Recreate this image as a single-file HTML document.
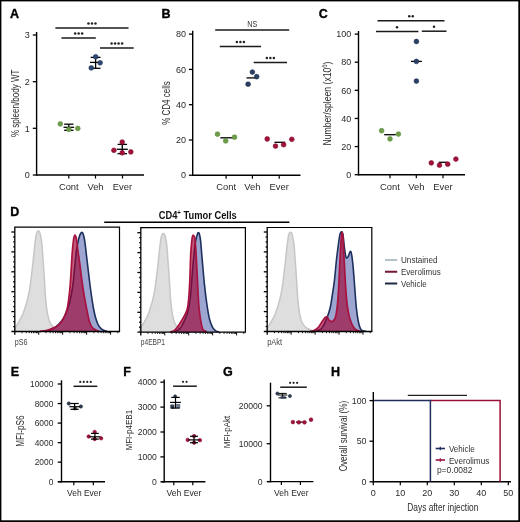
<!DOCTYPE html>
<html><head><meta charset="utf-8"><style>
html,body{margin:0;padding:0;background:#fff;}
body{width:520px;height:522px;overflow:hidden;position:relative;font-family:"Liberation Sans", sans-serif;}
svg{position:absolute;left:0;top:0;will-change:transform;}
svg text{font-family:"Liberation Sans", sans-serif;}
</style></head><body>
<svg width="520" height="522" viewBox="0 0 520 522">
<rect x="0" y="0" width="520" height="522" fill="#fff"/>
<text x="10" y="17.6" font-size="12.5" text-anchor="start" fill="#000" font-weight="bold" stroke="#000" stroke-width="0.35">A</text>
<line x1="36.6" y1="32" x2="36.6" y2="175.7" stroke="#000" stroke-width="1.4"/>
<line x1="32.800000000000004" y1="35" x2="36.6" y2="35" stroke="#000" stroke-width="1.3"/>
<text x="29.8" y="38.24" font-size="9" text-anchor="end" fill="#2a2a2a" font-weight="normal">3</text>
<line x1="32.800000000000004" y1="81.7" x2="36.6" y2="81.7" stroke="#000" stroke-width="1.3"/>
<text x="29.8" y="84.94" font-size="9" text-anchor="end" fill="#2a2a2a" font-weight="normal">2</text>
<line x1="32.800000000000004" y1="128.3" x2="36.6" y2="128.3" stroke="#000" stroke-width="1.3"/>
<text x="29.8" y="131.54000000000002" font-size="9" text-anchor="end" fill="#2a2a2a" font-weight="normal">1</text>
<line x1="32.800000000000004" y1="175" x2="36.6" y2="175" stroke="#000" stroke-width="1.3"/>
<text x="29.8" y="178.24" font-size="9" text-anchor="end" fill="#2a2a2a" font-weight="normal">0</text>
<line x1="36" y1="175" x2="144" y2="175" stroke="#000" stroke-width="1.4"/>
<line x1="68.8" y1="175" x2="68.8" y2="178.5" stroke="#000" stroke-width="1.2"/>
<line x1="95.5" y1="175" x2="95.5" y2="178.5" stroke="#000" stroke-width="1.2"/>
<line x1="122.5" y1="175" x2="122.5" y2="178.5" stroke="#000" stroke-width="1.2"/>
<text x="68.8" y="190" font-size="9.4" text-anchor="middle" fill="#2a2a2a" font-weight="normal">Cont</text>
<text x="95.5" y="190" font-size="9.4" text-anchor="middle" fill="#2a2a2a" font-weight="normal">Veh</text>
<text x="122.5" y="190" font-size="9.4" text-anchor="middle" fill="#2a2a2a" font-weight="normal">Ever</text>
<text transform="translate(18.8,103.3) rotate(-90)" x="0" y="0" font-size="10.2" text-anchor="middle" fill="#2a2a2a" textLength="67.5" lengthAdjust="spacingAndGlyphs">% spleen/body WT</text>
<line x1="55.4" y1="27.9" x2="128.5" y2="27.9" stroke="#1a1a1a" stroke-width="1.5"/>
<circle cx="88.45" cy="23.50" r="1.25" fill="#222"/>
<circle cx="91.95" cy="23.50" r="1.25" fill="#222"/>
<circle cx="95.45" cy="23.50" r="1.25" fill="#222"/>
<line x1="61.5" y1="37.9" x2="95.8" y2="37.9" stroke="#1a1a1a" stroke-width="1.5"/>
<circle cx="75.15" cy="33.50" r="1.25" fill="#222"/>
<circle cx="78.65" cy="33.50" r="1.25" fill="#222"/>
<circle cx="82.15" cy="33.50" r="1.25" fill="#222"/>
<line x1="100" y1="47.9" x2="133.7" y2="47.9" stroke="#1a1a1a" stroke-width="1.5"/>
<circle cx="111.60" cy="43.50" r="1.25" fill="#222"/>
<circle cx="115.10" cy="43.50" r="1.25" fill="#222"/>
<circle cx="118.60" cy="43.50" r="1.25" fill="#222"/>
<circle cx="122.10" cy="43.50" r="1.25" fill="#222"/>
<line x1="63.5" y1="127.3" x2="74.1" y2="127.3" stroke="#000" stroke-width="1.3"/>
<line x1="68.8" y1="124.2" x2="68.8" y2="130.3" stroke="#000" stroke-width="1.3"/>
<line x1="64.14999999999999" y1="124.2" x2="73.45" y2="124.2" stroke="#000" stroke-width="1.3"/>
<line x1="64.14999999999999" y1="130.3" x2="73.45" y2="130.3" stroke="#000" stroke-width="1.3"/>
<circle cx="60.3" cy="123.9" r="2.40" fill="#6e9e4a" stroke="#5a8a38" stroke-width="0.6"/>
<circle cx="68.85" cy="129.4" r="2.40" fill="#6e9e4a" stroke="#5a8a38" stroke-width="0.6"/>
<circle cx="77.8" cy="128.4" r="2.40" fill="#6e9e4a" stroke="#5a8a38" stroke-width="0.6"/>
<line x1="90.0" y1="62.4" x2="101.19999999999999" y2="62.4" stroke="#000" stroke-width="1.3"/>
<line x1="95.6" y1="57.4" x2="95.6" y2="68.3" stroke="#000" stroke-width="1.3"/>
<line x1="90.69999999999999" y1="57.4" x2="100.5" y2="57.4" stroke="#000" stroke-width="1.3"/>
<line x1="90.69999999999999" y1="68.3" x2="100.5" y2="68.3" stroke="#000" stroke-width="1.3"/>
<circle cx="95.7" cy="56.8" r="2.40" fill="#2e4672" stroke="#1f3258" stroke-width="0.6"/>
<circle cx="100.1" cy="62.8" r="2.40" fill="#2e4672" stroke="#1f3258" stroke-width="0.6"/>
<circle cx="91.25" cy="67.9" r="2.40" fill="#2e4672" stroke="#1f3258" stroke-width="0.6"/>
<line x1="116.8" y1="149.3" x2="127.8" y2="149.3" stroke="#000" stroke-width="1.3"/>
<line x1="122.3" y1="144.4" x2="122.3" y2="153.7" stroke="#000" stroke-width="1.3"/>
<line x1="117.55" y1="144.4" x2="127.05" y2="144.4" stroke="#000" stroke-width="1.3"/>
<line x1="117.55" y1="153.7" x2="127.05" y2="153.7" stroke="#000" stroke-width="1.3"/>
<circle cx="122.2" cy="142.1" r="2.40" fill="#a0123a" stroke="#860a2c" stroke-width="0.6"/>
<circle cx="113.9" cy="150.3" r="2.40" fill="#a0123a" stroke="#860a2c" stroke-width="0.6"/>
<circle cx="122.2" cy="152.8" r="2.40" fill="#a0123a" stroke="#860a2c" stroke-width="0.6"/>
<circle cx="130.85" cy="151.9" r="2.40" fill="#a0123a" stroke="#860a2c" stroke-width="0.6"/>
<text x="161.6" y="17.6" font-size="12.5" text-anchor="start" fill="#000" font-weight="bold" stroke="#000" stroke-width="0.35">B</text>
<line x1="192.7" y1="30.8" x2="192.7" y2="175.89999999999998" stroke="#000" stroke-width="1.4"/>
<line x1="188.89999999999998" y1="34.1" x2="192.7" y2="34.1" stroke="#000" stroke-width="1.3"/>
<text x="185.89999999999998" y="37.34" font-size="9" text-anchor="end" fill="#2a2a2a" font-weight="normal">80</text>
<line x1="188.89999999999998" y1="69.4" x2="192.7" y2="69.4" stroke="#000" stroke-width="1.3"/>
<text x="185.89999999999998" y="72.64" font-size="9" text-anchor="end" fill="#2a2a2a" font-weight="normal">60</text>
<line x1="188.89999999999998" y1="104.7" x2="192.7" y2="104.7" stroke="#000" stroke-width="1.3"/>
<text x="185.89999999999998" y="107.94" font-size="9" text-anchor="end" fill="#2a2a2a" font-weight="normal">40</text>
<line x1="188.89999999999998" y1="140" x2="192.7" y2="140" stroke="#000" stroke-width="1.3"/>
<text x="185.89999999999998" y="143.24" font-size="9" text-anchor="end" fill="#2a2a2a" font-weight="normal">20</text>
<line x1="188.89999999999998" y1="175.2" x2="192.7" y2="175.2" stroke="#000" stroke-width="1.3"/>
<text x="185.89999999999998" y="178.44" font-size="9" text-anchor="end" fill="#2a2a2a" font-weight="normal">0</text>
<line x1="192" y1="175.2" x2="300.5" y2="175.2" stroke="#000" stroke-width="1.4"/>
<line x1="226.1" y1="175.2" x2="226.1" y2="178.7" stroke="#000" stroke-width="1.2"/>
<line x1="252.4" y1="175.2" x2="252.4" y2="178.7" stroke="#000" stroke-width="1.2"/>
<line x1="279.2" y1="175.2" x2="279.2" y2="178.7" stroke="#000" stroke-width="1.2"/>
<text x="226.1" y="190" font-size="9.4" text-anchor="middle" fill="#2a2a2a" font-weight="normal">Cont</text>
<text x="252.4" y="190" font-size="9.4" text-anchor="middle" fill="#2a2a2a" font-weight="normal">Veh</text>
<text x="279.2" y="190" font-size="9.4" text-anchor="middle" fill="#2a2a2a" font-weight="normal">Ever</text>
<text transform="translate(170.1,103) rotate(-90)" x="0" y="0" font-size="10.2" text-anchor="middle" fill="#2a2a2a" textLength="43.5" lengthAdjust="spacingAndGlyphs">% CD4 cells</text>
<line x1="215.2" y1="30" x2="289.2" y2="30" stroke="#1a1a1a" stroke-width="1.5"/>
<text x="252.2" y="26.5" font-size="9.5" text-anchor="middle" fill="#333" font-weight="normal" textLength="10" lengthAdjust="spacingAndGlyphs">NS</text>
<line x1="219.8" y1="46.4" x2="261" y2="46.4" stroke="#1a1a1a" stroke-width="1.5"/>
<circle cx="236.90" cy="42.00" r="1.25" fill="#222"/>
<circle cx="240.40" cy="42.00" r="1.25" fill="#222"/>
<circle cx="243.90" cy="42.00" r="1.25" fill="#222"/>
<line x1="253.7" y1="62.5" x2="287" y2="62.5" stroke="#1a1a1a" stroke-width="1.5"/>
<circle cx="266.85" cy="58.10" r="1.25" fill="#222"/>
<circle cx="270.35" cy="58.10" r="1.25" fill="#222"/>
<circle cx="273.85" cy="58.10" r="1.25" fill="#222"/>
<line x1="220.35" y1="137.8" x2="233.04999999999998" y2="137.8" stroke="#000" stroke-width="1.3"/>
<circle cx="217.5" cy="134.2" r="2.40" fill="#6e9e4a" stroke="#5a8a38" stroke-width="0.6"/>
<circle cx="225.7" cy="140.9" r="2.40" fill="#6e9e4a" stroke="#5a8a38" stroke-width="0.6"/>
<circle cx="234.5" cy="137.2" r="2.40" fill="#6e9e4a" stroke="#5a8a38" stroke-width="0.6"/>
<line x1="246.5" y1="77.9" x2="257.5" y2="77.9" stroke="#000" stroke-width="1.3"/>
<circle cx="252.4" cy="72.1" r="2.40" fill="#2a3f66" stroke="#1c2c4c" stroke-width="0.6"/>
<circle cx="256.7" cy="76.7" r="2.40" fill="#2a3f66" stroke="#1c2c4c" stroke-width="0.6"/>
<circle cx="248.1" cy="84.2" r="2.40" fill="#2a3f66" stroke="#1c2c4c" stroke-width="0.6"/>
<line x1="274.45" y1="142.3" x2="285.15000000000003" y2="142.3" stroke="#000" stroke-width="1.3"/>
<circle cx="267.2" cy="139" r="2.40" fill="#a0123a" stroke="#860a2c" stroke-width="0.6"/>
<circle cx="275.5" cy="146.1" r="2.40" fill="#a0123a" stroke="#860a2c" stroke-width="0.6"/>
<circle cx="283.6" cy="144.7" r="2.40" fill="#a0123a" stroke="#860a2c" stroke-width="0.6"/>
<circle cx="291.8" cy="139.3" r="2.40" fill="#a0123a" stroke="#860a2c" stroke-width="0.6"/>
<text x="318.7" y="17.6" font-size="12.5" text-anchor="start" fill="#000" font-weight="bold" stroke="#000" stroke-width="0.35">C</text>
<line x1="358.5" y1="31" x2="358.5" y2="175.39999999999998" stroke="#000" stroke-width="1.4"/>
<line x1="354.7" y1="34.099999999999994" x2="358.5" y2="34.099999999999994" stroke="#000" stroke-width="1.3"/>
<text x="351.3" y="37.339999999999996" font-size="9" text-anchor="end" fill="#2a2a2a" font-weight="normal">100</text>
<line x1="354.7" y1="62.219999999999985" x2="358.5" y2="62.219999999999985" stroke="#000" stroke-width="1.3"/>
<text x="351.3" y="65.45999999999998" font-size="9" text-anchor="end" fill="#2a2a2a" font-weight="normal">80</text>
<line x1="354.7" y1="90.33999999999999" x2="358.5" y2="90.33999999999999" stroke="#000" stroke-width="1.3"/>
<text x="351.3" y="93.57999999999998" font-size="9" text-anchor="end" fill="#2a2a2a" font-weight="normal">60</text>
<line x1="354.7" y1="118.45999999999998" x2="358.5" y2="118.45999999999998" stroke="#000" stroke-width="1.3"/>
<text x="351.3" y="121.69999999999997" font-size="9" text-anchor="end" fill="#2a2a2a" font-weight="normal">40</text>
<line x1="354.7" y1="146.57999999999998" x2="358.5" y2="146.57999999999998" stroke="#000" stroke-width="1.3"/>
<text x="351.3" y="149.82" font-size="9" text-anchor="end" fill="#2a2a2a" font-weight="normal">20</text>
<line x1="354.7" y1="174.7" x2="358.5" y2="174.7" stroke="#000" stroke-width="1.3"/>
<text x="351.3" y="177.94" font-size="9" text-anchor="end" fill="#2a2a2a" font-weight="normal">0</text>
<line x1="358" y1="174.7" x2="465" y2="174.7" stroke="#000" stroke-width="1.4"/>
<line x1="390" y1="174.7" x2="390" y2="178.2" stroke="#000" stroke-width="1.2"/>
<line x1="416.3" y1="174.7" x2="416.3" y2="178.2" stroke="#000" stroke-width="1.2"/>
<line x1="443" y1="174.7" x2="443" y2="178.2" stroke="#000" stroke-width="1.2"/>
<text x="390" y="190" font-size="9.4" text-anchor="middle" fill="#2a2a2a" font-weight="normal">Cont</text>
<text x="416.3" y="190" font-size="9.4" text-anchor="middle" fill="#2a2a2a" font-weight="normal">Veh</text>
<text x="443" y="190" font-size="9.4" text-anchor="middle" fill="#2a2a2a" font-weight="normal">Ever</text>
<text transform="translate(330.6,103.5) rotate(-90)" x="0" y="0" font-size="10.4" text-anchor="middle" fill="#2a2a2a" textLength="84" lengthAdjust="spacingAndGlyphs">Number/spleen (x10<tspan font-size="7" dy="-3.8">6</tspan><tspan dy="3.8">)</tspan></text>
<line x1="377.5" y1="20.75" x2="444.5" y2="20.75" stroke="#1a1a1a" stroke-width="1.5"/>
<circle cx="409.25" cy="16.35" r="1.25" fill="#222"/>
<circle cx="412.75" cy="16.35" r="1.25" fill="#222"/>
<line x1="376" y1="31.6" x2="418.4" y2="31.6" stroke="#1a1a1a" stroke-width="1.5"/>
<circle cx="397.00" cy="27.20" r="1.25" fill="#222"/>
<line x1="421.8" y1="31.2" x2="446.5" y2="31.2" stroke="#1a1a1a" stroke-width="1.5"/>
<circle cx="434.00" cy="26.80" r="1.25" fill="#222"/>
<line x1="384.2" y1="134.7" x2="395.8" y2="134.7" stroke="#000" stroke-width="1.3"/>
<circle cx="381.6" cy="130.7" r="2.40" fill="#6e9e4a" stroke="#5a8a38" stroke-width="0.6"/>
<circle cx="390" cy="138.9" r="2.40" fill="#6e9e4a" stroke="#5a8a38" stroke-width="0.6"/>
<circle cx="398.4" cy="134.1" r="2.40" fill="#6e9e4a" stroke="#5a8a38" stroke-width="0.6"/>
<line x1="410.9" y1="61.4" x2="421.9" y2="61.4" stroke="#000" stroke-width="1.3"/>
<circle cx="416.4" cy="41.5" r="2.40" fill="#2a3f66" stroke="#1c2c4c" stroke-width="0.6"/>
<circle cx="416.4" cy="61.4" r="2.40" fill="#2a3f66" stroke="#1c2c4c" stroke-width="0.6"/>
<circle cx="416.4" cy="81.1" r="2.40" fill="#2a3f66" stroke="#1c2c4c" stroke-width="0.6"/>
<line x1="438.75" y1="162.3" x2="447.25" y2="162.3" stroke="#000" stroke-width="1.3"/>
<circle cx="431.3" cy="162.9" r="2.40" fill="#a0123a" stroke="#860a2c" stroke-width="0.6"/>
<circle cx="439.5" cy="165.2" r="2.40" fill="#a0123a" stroke="#860a2c" stroke-width="0.6"/>
<circle cx="447.7" cy="164.2" r="2.40" fill="#a0123a" stroke="#860a2c" stroke-width="0.6"/>
<circle cx="455.9" cy="159.1" r="2.40" fill="#a0123a" stroke="#860a2c" stroke-width="0.6"/>
<text x="10.3" y="216.3" font-size="12.5" text-anchor="start" fill="#000" font-weight="bold" stroke="#000" stroke-width="0.35">D</text>
<line x1="104.2" y1="222.3" x2="289.4" y2="222.3" stroke="#000" stroke-width="1.4"/>
<text x="197.7" y="218.7" font-size="10" text-anchor="middle" fill="#111" font-weight="bold" textLength="78" lengthAdjust="spacingAndGlyphs">CD4<tspan font-size="6.5" dy="-3.5">+</tspan><tspan dy="3.5"> Tumor Cells</tspan></text>
<path d="M14.50,331.00 C14.75,330.27 15.25,328.17 16.00,326.60 C16.75,325.03 17.83,323.75 19.00,321.60 C20.17,319.45 21.68,317.02 23.00,313.70 C24.32,310.38 25.75,306.02 26.90,301.70 C28.05,297.38 29.07,292.78 29.90,287.80 C30.73,282.82 31.30,276.78 31.90,271.80 C32.50,266.82 33.00,262.53 33.50,257.90 C34.00,253.27 34.43,247.90 34.90,244.00 C35.37,240.10 35.88,236.57 36.30,234.50 C36.72,232.43 37.07,232.18 37.40,231.60 C37.73,231.02 37.98,231.00 38.30,231.00 C38.62,231.00 38.97,231.02 39.30,231.60 C39.63,232.18 39.87,232.43 40.30,234.50 C40.73,236.57 41.47,240.10 41.90,244.00 C42.33,247.90 42.57,253.27 42.90,257.90 C43.23,262.53 43.57,266.82 43.90,271.80 C44.23,276.78 44.57,282.82 44.90,287.80 C45.23,292.78 45.47,297.38 45.90,301.70 C46.33,306.02 46.90,310.38 47.50,313.70 C48.10,317.02 48.62,319.45 49.50,321.60 C50.38,323.75 51.58,325.33 52.80,326.60 C54.02,327.87 55.60,328.50 56.80,329.20 C58.00,329.90 59.47,330.53 60.00,330.80 L60.00,331.5 L14.50,331.5 Z" fill="#dedede" fill-opacity="1.0" stroke="none"/>
<path d="M14.50,331.00 C14.75,330.27 15.25,328.17 16.00,326.60 C16.75,325.03 17.83,323.75 19.00,321.60 C20.17,319.45 21.68,317.02 23.00,313.70 C24.32,310.38 25.75,306.02 26.90,301.70 C28.05,297.38 29.07,292.78 29.90,287.80 C30.73,282.82 31.30,276.78 31.90,271.80 C32.50,266.82 33.00,262.53 33.50,257.90 C34.00,253.27 34.43,247.90 34.90,244.00 C35.37,240.10 35.88,236.57 36.30,234.50 C36.72,232.43 37.07,232.18 37.40,231.60 C37.73,231.02 37.98,231.00 38.30,231.00 C38.62,231.00 38.97,231.02 39.30,231.60 C39.63,232.18 39.87,232.43 40.30,234.50 C40.73,236.57 41.47,240.10 41.90,244.00 C42.33,247.90 42.57,253.27 42.90,257.90 C43.23,262.53 43.57,266.82 43.90,271.80 C44.23,276.78 44.57,282.82 44.90,287.80 C45.23,292.78 45.47,297.38 45.90,301.70 C46.33,306.02 46.90,310.38 47.50,313.70 C48.10,317.02 48.62,319.45 49.50,321.60 C50.38,323.75 51.58,325.33 52.80,326.60 C54.02,327.87 55.60,328.50 56.80,329.20 C58.00,329.90 59.47,330.53 60.00,330.80" fill="none" stroke="#c6c6c6" stroke-width="1.5" stroke-linejoin="round"/>
<path d="M47.00,331.20 C48.33,330.58 52.50,329.28 55.00,327.50 C57.50,325.72 60.08,323.08 62.00,320.50 C63.92,317.92 65.25,314.92 66.50,312.00 C67.75,309.08 68.62,306.33 69.50,303.00 C70.38,299.67 71.13,295.83 71.80,292.00 C72.47,288.17 72.97,284.67 73.50,280.00 C74.03,275.33 74.55,268.67 75.00,264.00 C75.45,259.33 75.77,255.33 76.20,252.00 C76.63,248.67 77.10,246.50 77.60,244.00 C78.10,241.50 78.70,238.75 79.20,237.00 C79.70,235.25 80.17,234.27 80.60,233.50 C81.03,232.73 81.40,232.38 81.80,232.40 C82.20,232.42 82.60,232.67 83.00,233.60 C83.40,234.53 83.80,235.93 84.20,238.00 C84.60,240.07 85.00,242.90 85.40,246.00 C85.80,249.10 86.13,252.60 86.60,256.60 C87.07,260.60 87.63,265.27 88.20,270.00 C88.77,274.73 89.40,280.33 90.00,285.00 C90.60,289.67 91.20,294.00 91.80,298.00 C92.40,302.00 93.00,305.83 93.60,309.00 C94.20,312.17 94.73,314.58 95.40,317.00 C96.07,319.42 96.83,321.73 97.60,323.50 C98.37,325.27 99.10,326.52 100.00,327.60 C100.90,328.68 101.83,329.40 103.00,330.00 C104.17,330.60 106.33,331.00 107.00,331.20 L107.00,331.5 L47.00,331.5 Z" fill="#9ca6d0" fill-opacity="1.0" stroke="none"/>
<path d="M47.00,331.20 C48.33,330.58 52.50,329.28 55.00,327.50 C57.50,325.72 60.08,323.08 62.00,320.50 C63.92,317.92 65.25,314.92 66.50,312.00 C67.75,309.08 68.62,306.33 69.50,303.00 C70.38,299.67 71.13,295.83 71.80,292.00 C72.47,288.17 72.97,284.67 73.50,280.00 C74.03,275.33 74.55,268.67 75.00,264.00 C75.45,259.33 75.77,255.33 76.20,252.00 C76.63,248.67 77.10,246.50 77.60,244.00 C78.10,241.50 78.70,238.75 79.20,237.00 C79.70,235.25 80.17,234.27 80.60,233.50 C81.03,232.73 81.40,232.38 81.80,232.40 C82.20,232.42 82.60,232.67 83.00,233.60 C83.40,234.53 83.80,235.93 84.20,238.00 C84.60,240.07 85.00,242.90 85.40,246.00 C85.80,249.10 86.13,252.60 86.60,256.60 C87.07,260.60 87.63,265.27 88.20,270.00 C88.77,274.73 89.40,280.33 90.00,285.00 C90.60,289.67 91.20,294.00 91.80,298.00 C92.40,302.00 93.00,305.83 93.60,309.00 C94.20,312.17 94.73,314.58 95.40,317.00 C96.07,319.42 96.83,321.73 97.60,323.50 C98.37,325.27 99.10,326.52 100.00,327.60 C100.90,328.68 101.83,329.40 103.00,330.00 C104.17,330.60 106.33,331.00 107.00,331.20" fill="none" stroke="#1e305e" stroke-width="1.6" stroke-linejoin="round"/>
<path d="M40.00,331.30 C41.00,331.18 44.00,331.05 46.00,330.60 C48.00,330.15 50.02,329.43 52.00,328.60 C53.98,327.77 56.08,327.10 57.90,325.60 C59.72,324.10 61.40,322.25 62.90,319.60 C64.40,316.95 65.90,313.35 66.90,309.70 C67.90,306.05 68.33,302.02 68.90,297.70 C69.47,293.38 69.90,288.78 70.30,283.80 C70.70,278.82 70.97,273.12 71.30,267.80 C71.63,262.48 71.93,256.53 72.30,251.90 C72.67,247.27 73.17,242.62 73.50,240.00 C73.83,237.38 74.07,237.03 74.30,236.20 C74.53,235.37 74.68,235.00 74.90,235.00 C75.12,235.00 75.37,235.70 75.60,236.20 C75.83,236.70 75.93,235.72 76.30,238.00 C76.67,240.28 77.22,245.58 77.80,249.90 C78.38,254.22 79.13,258.92 79.80,263.90 C80.47,268.88 81.07,274.50 81.80,279.80 C82.53,285.10 83.37,290.72 84.20,295.70 C85.03,300.68 85.93,305.38 86.80,309.70 C87.67,314.02 88.50,318.62 89.40,321.60 C90.30,324.58 91.13,326.20 92.20,327.60 C93.27,329.00 94.67,329.40 95.80,330.00 C96.93,330.60 98.47,331.00 99.00,331.20 L99.00,331.5 L40.00,331.5 Z" fill="#a00034" fill-opacity="0.64" stroke="none"/>
<path d="M40.00,331.30 C41.00,331.18 44.00,331.05 46.00,330.60 C48.00,330.15 50.02,329.43 52.00,328.60 C53.98,327.77 56.08,327.10 57.90,325.60 C59.72,324.10 61.40,322.25 62.90,319.60 C64.40,316.95 65.90,313.35 66.90,309.70 C67.90,306.05 68.33,302.02 68.90,297.70 C69.47,293.38 69.90,288.78 70.30,283.80 C70.70,278.82 70.97,273.12 71.30,267.80 C71.63,262.48 71.93,256.53 72.30,251.90 C72.67,247.27 73.17,242.62 73.50,240.00 C73.83,237.38 74.07,237.03 74.30,236.20 C74.53,235.37 74.68,235.00 74.90,235.00 C75.12,235.00 75.37,235.70 75.60,236.20 C75.83,236.70 75.93,235.72 76.30,238.00 C76.67,240.28 77.22,245.58 77.80,249.90 C78.38,254.22 79.13,258.92 79.80,263.90 C80.47,268.88 81.07,274.50 81.80,279.80 C82.53,285.10 83.37,290.72 84.20,295.70 C85.03,300.68 85.93,305.38 86.80,309.70 C87.67,314.02 88.50,318.62 89.40,321.60 C90.30,324.58 91.13,326.20 92.20,327.60 C93.27,329.00 94.67,329.40 95.80,330.00 C96.93,330.60 98.47,331.00 99.00,331.20" fill="none" stroke="#a8123f" stroke-width="1.7" stroke-linejoin="round"/>
<line x1="13.200000000000001" y1="326.525" x2="14.8" y2="326.525" stroke="#000" stroke-width="1.3"/>
<line x1="13.200000000000001" y1="321.55" x2="14.8" y2="321.55" stroke="#000" stroke-width="1.3"/>
<line x1="13.200000000000001" y1="316.575" x2="14.8" y2="316.575" stroke="#000" stroke-width="1.3"/>
<line x1="11.4" y1="311.6" x2="14.8" y2="311.6" stroke="#000" stroke-width="1.3"/>
<line x1="13.200000000000001" y1="306.625" x2="14.8" y2="306.625" stroke="#000" stroke-width="1.3"/>
<line x1="13.200000000000001" y1="301.65" x2="14.8" y2="301.65" stroke="#000" stroke-width="1.3"/>
<line x1="13.200000000000001" y1="296.675" x2="14.8" y2="296.675" stroke="#000" stroke-width="1.3"/>
<line x1="11.4" y1="291.7" x2="14.8" y2="291.7" stroke="#000" stroke-width="1.3"/>
<line x1="13.200000000000001" y1="286.725" x2="14.8" y2="286.725" stroke="#000" stroke-width="1.3"/>
<line x1="13.200000000000001" y1="281.75" x2="14.8" y2="281.75" stroke="#000" stroke-width="1.3"/>
<line x1="13.200000000000001" y1="276.775" x2="14.8" y2="276.775" stroke="#000" stroke-width="1.3"/>
<line x1="11.4" y1="271.8" x2="14.8" y2="271.8" stroke="#000" stroke-width="1.3"/>
<line x1="13.200000000000001" y1="266.825" x2="14.8" y2="266.825" stroke="#000" stroke-width="1.3"/>
<line x1="13.200000000000001" y1="261.85" x2="14.8" y2="261.85" stroke="#000" stroke-width="1.3"/>
<line x1="13.200000000000001" y1="256.875" x2="14.8" y2="256.875" stroke="#000" stroke-width="1.3"/>
<line x1="11.4" y1="251.9" x2="14.8" y2="251.9" stroke="#000" stroke-width="1.3"/>
<line x1="13.200000000000001" y1="246.925" x2="14.8" y2="246.925" stroke="#000" stroke-width="1.3"/>
<line x1="13.200000000000001" y1="241.95" x2="14.8" y2="241.95" stroke="#000" stroke-width="1.3"/>
<line x1="13.200000000000001" y1="236.97500000000002" x2="14.8" y2="236.97500000000002" stroke="#000" stroke-width="1.3"/>
<line x1="11.4" y1="232.0" x2="14.8" y2="232.0" stroke="#000" stroke-width="1.3"/>
<line x1="22.00966839615235" y1="331.5" x2="22.00966839615235" y2="333.2" stroke="#000" stroke-width="0.9"/>
<line x1="26.227054050535916" y1="331.5" x2="26.227054050535916" y2="333.2" stroke="#000" stroke-width="0.9"/>
<line x1="29.219336792304702" y1="331.5" x2="29.219336792304702" y2="333.2" stroke="#000" stroke-width="0.9"/>
<line x1="31.54033160384765" y1="331.5" x2="31.54033160384765" y2="333.2" stroke="#000" stroke-width="0.9"/>
<line x1="33.436722446688265" y1="331.5" x2="33.436722446688265" y2="333.2" stroke="#000" stroke-width="0.9"/>
<line x1="35.04009805834145" y1="331.5" x2="35.04009805834145" y2="333.2" stroke="#000" stroke-width="0.9"/>
<line x1="36.42900518845705" y1="331.5" x2="36.42900518845705" y2="333.2" stroke="#000" stroke-width="0.9"/>
<line x1="37.65410810107183" y1="331.5" x2="37.65410810107183" y2="333.2" stroke="#000" stroke-width="0.9"/>
<line x1="38.75" y1="331.5" x2="38.75" y2="334.7" stroke="#000" stroke-width="1.0"/>
<line x1="45.95966839615235" y1="331.5" x2="45.95966839615235" y2="333.2" stroke="#000" stroke-width="0.9"/>
<line x1="50.177054050535915" y1="331.5" x2="50.177054050535915" y2="333.2" stroke="#000" stroke-width="0.9"/>
<line x1="53.1693367923047" y1="331.5" x2="53.1693367923047" y2="333.2" stroke="#000" stroke-width="0.9"/>
<line x1="55.49033160384765" y1="331.5" x2="55.49033160384765" y2="333.2" stroke="#000" stroke-width="0.9"/>
<line x1="57.38672244668827" y1="331.5" x2="57.38672244668827" y2="333.2" stroke="#000" stroke-width="0.9"/>
<line x1="58.990098058341445" y1="331.5" x2="58.990098058341445" y2="333.2" stroke="#000" stroke-width="0.9"/>
<line x1="60.37900518845704" y1="331.5" x2="60.37900518845704" y2="333.2" stroke="#000" stroke-width="0.9"/>
<line x1="61.60410810107183" y1="331.5" x2="61.60410810107183" y2="333.2" stroke="#000" stroke-width="0.9"/>
<line x1="62.7" y1="331.5" x2="62.7" y2="334.7" stroke="#000" stroke-width="1.0"/>
<line x1="69.90966839615236" y1="331.5" x2="69.90966839615236" y2="333.2" stroke="#000" stroke-width="0.9"/>
<line x1="74.12705405053592" y1="331.5" x2="74.12705405053592" y2="333.2" stroke="#000" stroke-width="0.9"/>
<line x1="77.11933679230471" y1="331.5" x2="77.11933679230471" y2="333.2" stroke="#000" stroke-width="0.9"/>
<line x1="79.44033160384765" y1="331.5" x2="79.44033160384765" y2="333.2" stroke="#000" stroke-width="0.9"/>
<line x1="81.33672244668827" y1="331.5" x2="81.33672244668827" y2="333.2" stroke="#000" stroke-width="0.9"/>
<line x1="82.94009805834145" y1="331.5" x2="82.94009805834145" y2="333.2" stroke="#000" stroke-width="0.9"/>
<line x1="84.32900518845705" y1="331.5" x2="84.32900518845705" y2="333.2" stroke="#000" stroke-width="0.9"/>
<line x1="85.55410810107183" y1="331.5" x2="85.55410810107183" y2="333.2" stroke="#000" stroke-width="0.9"/>
<line x1="86.64999999999999" y1="331.5" x2="86.64999999999999" y2="334.7" stroke="#000" stroke-width="1.0"/>
<line x1="93.85966839615234" y1="331.5" x2="93.85966839615234" y2="333.2" stroke="#000" stroke-width="0.9"/>
<line x1="98.0770540505359" y1="331.5" x2="98.0770540505359" y2="333.2" stroke="#000" stroke-width="0.9"/>
<line x1="101.0693367923047" y1="331.5" x2="101.0693367923047" y2="333.2" stroke="#000" stroke-width="0.9"/>
<line x1="103.39033160384764" y1="331.5" x2="103.39033160384764" y2="333.2" stroke="#000" stroke-width="0.9"/>
<line x1="105.28672244668826" y1="331.5" x2="105.28672244668826" y2="333.2" stroke="#000" stroke-width="0.9"/>
<line x1="106.89009805834144" y1="331.5" x2="106.89009805834144" y2="333.2" stroke="#000" stroke-width="0.9"/>
<line x1="108.27900518845703" y1="331.5" x2="108.27900518845703" y2="333.2" stroke="#000" stroke-width="0.9"/>
<line x1="109.50410810107182" y1="331.5" x2="109.50410810107182" y2="333.2" stroke="#000" stroke-width="0.9"/>
<line x1="110.6" y1="331.5" x2="110.6" y2="334.7" stroke="#000" stroke-width="1.0"/>
<line x1="117.80966839615235" y1="331.5" x2="117.80966839615235" y2="333.2" stroke="#000" stroke-width="0.9"/>
<line x1="14.8" y1="227.2" x2="14.8" y2="334.8" stroke="#000" stroke-width="1.3"/>
<line x1="11.4" y1="331.5" x2="120.1" y2="331.5" stroke="#000" stroke-width="1.3"/>
<line x1="14.200000000000001" y1="227.2" x2="120.1" y2="227.2" stroke="#000" stroke-width="1.2"/>
<line x1="119.5" y1="227.2" x2="119.5" y2="331.5" stroke="#000" stroke-width="1.2"/>
<text x="14.8" y="344.7" font-size="8.3" text-anchor="start" fill="#444" font-weight="normal" textLength="12.7" lengthAdjust="spacingAndGlyphs">pS6</text>
<path d="M139.50,331.71 C139.75,330.99 140.25,328.93 141.00,327.39 C141.75,325.85 142.83,324.59 144.00,322.48 C145.17,320.37 146.68,317.98 148.00,314.72 C149.32,311.46 150.75,307.17 151.90,302.93 C153.05,298.69 154.07,294.18 154.90,289.28 C155.73,284.39 156.30,278.46 156.90,273.57 C157.50,268.68 158.00,264.47 158.50,259.92 C159.00,255.37 159.43,250.10 159.90,246.27 C160.37,242.44 160.88,238.97 161.30,236.94 C161.72,234.91 162.07,234.66 162.40,234.09 C162.73,233.52 162.98,233.50 163.30,233.50 C163.62,233.50 163.97,233.52 164.30,234.09 C164.63,234.66 164.87,234.91 165.30,236.94 C165.73,238.97 166.47,242.44 166.90,246.27 C167.33,250.10 167.57,255.37 167.90,259.92 C168.23,264.47 168.57,268.68 168.90,273.57 C169.23,278.46 169.57,284.39 169.90,289.28 C170.23,294.18 170.47,298.69 170.90,302.93 C171.33,307.17 171.90,311.46 172.50,314.72 C173.10,317.98 173.62,320.37 174.50,322.48 C175.38,324.59 176.58,326.14 177.80,327.39 C179.02,328.63 180.60,329.25 181.80,329.94 C183.00,330.63 184.47,331.25 185.00,331.51 L185.00,332.2 L139.50,332.2 Z" fill="#dedede" fill-opacity="1.0" stroke="none"/>
<path d="M139.50,331.71 C139.75,330.99 140.25,328.93 141.00,327.39 C141.75,325.85 142.83,324.59 144.00,322.48 C145.17,320.37 146.68,317.98 148.00,314.72 C149.32,311.46 150.75,307.17 151.90,302.93 C153.05,298.69 154.07,294.18 154.90,289.28 C155.73,284.39 156.30,278.46 156.90,273.57 C157.50,268.68 158.00,264.47 158.50,259.92 C159.00,255.37 159.43,250.10 159.90,246.27 C160.37,242.44 160.88,238.97 161.30,236.94 C161.72,234.91 162.07,234.66 162.40,234.09 C162.73,233.52 162.98,233.50 163.30,233.50 C163.62,233.50 163.97,233.52 164.30,234.09 C164.63,234.66 164.87,234.91 165.30,236.94 C165.73,238.97 166.47,242.44 166.90,246.27 C167.33,250.10 167.57,255.37 167.90,259.92 C168.23,264.47 168.57,268.68 168.90,273.57 C169.23,278.46 169.57,284.39 169.90,289.28 C170.23,294.18 170.47,298.69 170.90,302.93 C171.33,307.17 171.90,311.46 172.50,314.72 C173.10,317.98 173.62,320.37 174.50,322.48 C175.38,324.59 176.58,326.14 177.80,327.39 C179.02,328.63 180.60,329.25 181.80,329.94 C183.00,330.63 184.47,331.25 185.00,331.51" fill="none" stroke="#c6c6c6" stroke-width="1.5" stroke-linejoin="round"/>
<path d="M174.00,332.00 C175.00,331.43 178.25,330.52 180.00,328.60 C181.75,326.68 183.25,323.10 184.50,320.50 C185.75,317.90 186.72,315.58 187.50,313.00 C188.28,310.42 188.68,308.00 189.20,305.00 C189.72,302.00 190.17,299.17 190.60,295.00 C191.03,290.83 191.40,285.00 191.80,280.00 C192.20,275.00 192.60,269.67 193.00,265.00 C193.40,260.33 193.80,255.83 194.20,252.00 C194.60,248.17 194.97,244.65 195.40,242.00 C195.83,239.35 196.40,237.57 196.80,236.10 C197.20,234.63 197.53,233.80 197.80,233.20 C198.07,232.60 198.17,232.45 198.40,232.50 C198.63,232.55 198.85,232.22 199.20,233.50 C199.55,234.78 200.02,236.03 200.50,240.20 C200.98,244.37 201.43,251.05 202.10,258.50 C202.77,265.95 203.68,277.12 204.50,284.90 C205.32,292.68 206.15,299.43 207.00,305.20 C207.85,310.97 208.65,315.77 209.60,319.50 C210.55,323.23 211.68,325.72 212.70,327.60 C213.72,329.48 214.65,330.08 215.70,330.80 C216.75,331.52 218.45,331.72 219.00,331.90 L219.00,332.2 L174.00,332.2 Z" fill="#9ca6d0" fill-opacity="1.0" stroke="none"/>
<path d="M174.00,332.00 C175.00,331.43 178.25,330.52 180.00,328.60 C181.75,326.68 183.25,323.10 184.50,320.50 C185.75,317.90 186.72,315.58 187.50,313.00 C188.28,310.42 188.68,308.00 189.20,305.00 C189.72,302.00 190.17,299.17 190.60,295.00 C191.03,290.83 191.40,285.00 191.80,280.00 C192.20,275.00 192.60,269.67 193.00,265.00 C193.40,260.33 193.80,255.83 194.20,252.00 C194.60,248.17 194.97,244.65 195.40,242.00 C195.83,239.35 196.40,237.57 196.80,236.10 C197.20,234.63 197.53,233.80 197.80,233.20 C198.07,232.60 198.17,232.45 198.40,232.50 C198.63,232.55 198.85,232.22 199.20,233.50 C199.55,234.78 200.02,236.03 200.50,240.20 C200.98,244.37 201.43,251.05 202.10,258.50 C202.77,265.95 203.68,277.12 204.50,284.90 C205.32,292.68 206.15,299.43 207.00,305.20 C207.85,310.97 208.65,315.77 209.60,319.50 C210.55,323.23 211.68,325.72 212.70,327.60 C213.72,329.48 214.65,330.08 215.70,330.80 C216.75,331.52 218.45,331.72 219.00,331.90" fill="none" stroke="#1e305e" stroke-width="1.6" stroke-linejoin="round"/>
<path d="M170.00,332.00 C170.67,331.77 172.82,331.33 174.00,330.60 C175.18,329.87 175.92,329.12 177.10,327.60 C178.28,326.08 179.85,323.53 181.10,321.50 C182.35,319.47 183.58,317.43 184.60,315.40 C185.62,313.37 186.52,312.02 187.20,309.30 C187.88,306.58 188.25,304.18 188.70,299.10 C189.15,294.02 189.57,286.25 189.90,278.80 C190.23,271.35 190.37,260.83 190.70,254.40 C191.03,247.97 191.58,243.23 191.90,240.20 C192.22,237.17 192.37,237.05 192.60,236.20 C192.83,235.35 193.05,235.10 193.30,235.10 C193.55,235.10 193.85,235.68 194.10,236.20 C194.35,236.72 194.48,235.50 194.80,238.20 C195.12,240.90 195.57,245.63 196.00,252.40 C196.43,259.17 196.93,270.00 197.40,278.80 C197.87,287.60 198.28,298.42 198.80,305.20 C199.32,311.98 199.88,315.60 200.50,319.50 C201.12,323.40 201.83,326.72 202.50,328.60 C203.17,330.48 203.75,330.25 204.50,330.80 C205.25,331.35 206.58,331.72 207.00,331.90 L207.00,332.2 L170.00,332.2 Z" fill="#a00034" fill-opacity="0.64" stroke="none"/>
<path d="M170.00,332.00 C170.67,331.77 172.82,331.33 174.00,330.60 C175.18,329.87 175.92,329.12 177.10,327.60 C178.28,326.08 179.85,323.53 181.10,321.50 C182.35,319.47 183.58,317.43 184.60,315.40 C185.62,313.37 186.52,312.02 187.20,309.30 C187.88,306.58 188.25,304.18 188.70,299.10 C189.15,294.02 189.57,286.25 189.90,278.80 C190.23,271.35 190.37,260.83 190.70,254.40 C191.03,247.97 191.58,243.23 191.90,240.20 C192.22,237.17 192.37,237.05 192.60,236.20 C192.83,235.35 193.05,235.10 193.30,235.10 C193.55,235.10 193.85,235.68 194.10,236.20 C194.35,236.72 194.48,235.50 194.80,238.20 C195.12,240.90 195.57,245.63 196.00,252.40 C196.43,259.17 196.93,270.00 197.40,278.80 C197.87,287.60 198.28,298.42 198.80,305.20 C199.32,311.98 199.88,315.60 200.50,319.50 C201.12,323.40 201.83,326.72 202.50,328.60 C203.17,330.48 203.75,330.25 204.50,330.80 C205.25,331.35 206.58,331.72 207.00,331.90" fill="none" stroke="#a8123f" stroke-width="1.7" stroke-linejoin="round"/>
<line x1="139.20000000000002" y1="327.22499999999997" x2="140.8" y2="327.22499999999997" stroke="#000" stroke-width="1.3"/>
<line x1="139.20000000000002" y1="322.25" x2="140.8" y2="322.25" stroke="#000" stroke-width="1.3"/>
<line x1="139.20000000000002" y1="317.275" x2="140.8" y2="317.275" stroke="#000" stroke-width="1.3"/>
<line x1="137.4" y1="312.3" x2="140.8" y2="312.3" stroke="#000" stroke-width="1.3"/>
<line x1="139.20000000000002" y1="307.325" x2="140.8" y2="307.325" stroke="#000" stroke-width="1.3"/>
<line x1="139.20000000000002" y1="302.34999999999997" x2="140.8" y2="302.34999999999997" stroke="#000" stroke-width="1.3"/>
<line x1="139.20000000000002" y1="297.375" x2="140.8" y2="297.375" stroke="#000" stroke-width="1.3"/>
<line x1="137.4" y1="292.4" x2="140.8" y2="292.4" stroke="#000" stroke-width="1.3"/>
<line x1="139.20000000000002" y1="287.425" x2="140.8" y2="287.425" stroke="#000" stroke-width="1.3"/>
<line x1="139.20000000000002" y1="282.45" x2="140.8" y2="282.45" stroke="#000" stroke-width="1.3"/>
<line x1="139.20000000000002" y1="277.475" x2="140.8" y2="277.475" stroke="#000" stroke-width="1.3"/>
<line x1="137.4" y1="272.5" x2="140.8" y2="272.5" stroke="#000" stroke-width="1.3"/>
<line x1="139.20000000000002" y1="267.525" x2="140.8" y2="267.525" stroke="#000" stroke-width="1.3"/>
<line x1="139.20000000000002" y1="262.55" x2="140.8" y2="262.55" stroke="#000" stroke-width="1.3"/>
<line x1="139.20000000000002" y1="257.575" x2="140.8" y2="257.575" stroke="#000" stroke-width="1.3"/>
<line x1="137.4" y1="252.6" x2="140.8" y2="252.6" stroke="#000" stroke-width="1.3"/>
<line x1="139.20000000000002" y1="247.625" x2="140.8" y2="247.625" stroke="#000" stroke-width="1.3"/>
<line x1="139.20000000000002" y1="242.64999999999998" x2="140.8" y2="242.64999999999998" stroke="#000" stroke-width="1.3"/>
<line x1="139.20000000000002" y1="237.675" x2="140.8" y2="237.675" stroke="#000" stroke-width="1.3"/>
<line x1="137.4" y1="232.7" x2="140.8" y2="232.7" stroke="#000" stroke-width="1.3"/>
<line x1="148.00966839615236" y1="332.2" x2="148.00966839615236" y2="333.9" stroke="#000" stroke-width="0.9"/>
<line x1="152.2270540505359" y1="332.2" x2="152.2270540505359" y2="333.9" stroke="#000" stroke-width="0.9"/>
<line x1="155.21933679230472" y1="332.2" x2="155.21933679230472" y2="333.9" stroke="#000" stroke-width="0.9"/>
<line x1="157.54033160384768" y1="332.2" x2="157.54033160384768" y2="333.9" stroke="#000" stroke-width="0.9"/>
<line x1="159.43672244668826" y1="332.2" x2="159.43672244668826" y2="333.9" stroke="#000" stroke-width="0.9"/>
<line x1="161.04009805834147" y1="332.2" x2="161.04009805834147" y2="333.9" stroke="#000" stroke-width="0.9"/>
<line x1="162.42900518845707" y1="332.2" x2="162.42900518845707" y2="333.9" stroke="#000" stroke-width="0.9"/>
<line x1="163.65410810107184" y1="332.2" x2="163.65410810107184" y2="333.9" stroke="#000" stroke-width="0.9"/>
<line x1="164.75" y1="332.2" x2="164.75" y2="335.4" stroke="#000" stroke-width="1.0"/>
<line x1="171.95966839615235" y1="332.2" x2="171.95966839615235" y2="333.9" stroke="#000" stroke-width="0.9"/>
<line x1="176.1770540505359" y1="332.2" x2="176.1770540505359" y2="333.9" stroke="#000" stroke-width="0.9"/>
<line x1="179.1693367923047" y1="332.2" x2="179.1693367923047" y2="333.9" stroke="#000" stroke-width="0.9"/>
<line x1="181.49033160384766" y1="332.2" x2="181.49033160384766" y2="333.9" stroke="#000" stroke-width="0.9"/>
<line x1="183.38672244668825" y1="332.2" x2="183.38672244668825" y2="333.9" stroke="#000" stroke-width="0.9"/>
<line x1="184.99009805834146" y1="332.2" x2="184.99009805834146" y2="333.9" stroke="#000" stroke-width="0.9"/>
<line x1="186.37900518845706" y1="332.2" x2="186.37900518845706" y2="333.9" stroke="#000" stroke-width="0.9"/>
<line x1="187.60410810107183" y1="332.2" x2="187.60410810107183" y2="333.9" stroke="#000" stroke-width="0.9"/>
<line x1="188.70000000000002" y1="332.2" x2="188.70000000000002" y2="335.4" stroke="#000" stroke-width="1.0"/>
<line x1="195.90966839615237" y1="332.2" x2="195.90966839615237" y2="333.9" stroke="#000" stroke-width="0.9"/>
<line x1="200.12705405053595" y1="332.2" x2="200.12705405053595" y2="333.9" stroke="#000" stroke-width="0.9"/>
<line x1="203.11933679230472" y1="332.2" x2="203.11933679230472" y2="333.9" stroke="#000" stroke-width="0.9"/>
<line x1="205.44033160384765" y1="332.2" x2="205.44033160384765" y2="333.9" stroke="#000" stroke-width="0.9"/>
<line x1="207.33672244668827" y1="332.2" x2="207.33672244668827" y2="333.9" stroke="#000" stroke-width="0.9"/>
<line x1="208.94009805834148" y1="332.2" x2="208.94009805834148" y2="333.9" stroke="#000" stroke-width="0.9"/>
<line x1="210.32900518845707" y1="332.2" x2="210.32900518845707" y2="333.9" stroke="#000" stroke-width="0.9"/>
<line x1="211.55410810107185" y1="332.2" x2="211.55410810107185" y2="333.9" stroke="#000" stroke-width="0.9"/>
<line x1="212.65" y1="332.2" x2="212.65" y2="335.4" stroke="#000" stroke-width="1.0"/>
<line x1="219.85966839615236" y1="332.2" x2="219.85966839615236" y2="333.9" stroke="#000" stroke-width="0.9"/>
<line x1="224.07705405053593" y1="332.2" x2="224.07705405053593" y2="333.9" stroke="#000" stroke-width="0.9"/>
<line x1="227.0693367923047" y1="332.2" x2="227.0693367923047" y2="333.9" stroke="#000" stroke-width="0.9"/>
<line x1="229.39033160384764" y1="332.2" x2="229.39033160384764" y2="333.9" stroke="#000" stroke-width="0.9"/>
<line x1="231.28672244668826" y1="332.2" x2="231.28672244668826" y2="333.9" stroke="#000" stroke-width="0.9"/>
<line x1="232.89009805834147" y1="332.2" x2="232.89009805834147" y2="333.9" stroke="#000" stroke-width="0.9"/>
<line x1="234.27900518845706" y1="332.2" x2="234.27900518845706" y2="333.9" stroke="#000" stroke-width="0.9"/>
<line x1="235.50410810107184" y1="332.2" x2="235.50410810107184" y2="333.9" stroke="#000" stroke-width="0.9"/>
<line x1="236.60000000000002" y1="332.2" x2="236.60000000000002" y2="335.4" stroke="#000" stroke-width="1.0"/>
<line x1="243.80966839615238" y1="332.2" x2="243.80966839615238" y2="333.9" stroke="#000" stroke-width="0.9"/>
<line x1="140.8" y1="227.7" x2="140.8" y2="335.5" stroke="#000" stroke-width="1.3"/>
<line x1="137.4" y1="332.2" x2="246.0" y2="332.2" stroke="#000" stroke-width="1.3"/>
<line x1="140.20000000000002" y1="227.7" x2="246.0" y2="227.7" stroke="#000" stroke-width="1.2"/>
<line x1="245.4" y1="227.7" x2="245.4" y2="332.2" stroke="#000" stroke-width="1.2"/>
<text x="140.8" y="345.4" font-size="8.3" text-anchor="start" fill="#444" font-weight="normal" textLength="24.2" lengthAdjust="spacingAndGlyphs">p4EBP1</text>
<path d="M266.70,331.01 C266.95,330.28 267.45,328.21 268.20,326.66 C268.95,325.12 270.03,323.85 271.20,321.73 C272.37,319.61 273.88,317.20 275.20,313.93 C276.52,310.66 277.95,306.35 279.10,302.09 C280.25,297.82 281.27,293.28 282.10,288.37 C282.93,283.45 283.50,277.49 284.10,272.57 C284.70,267.65 285.20,263.43 285.70,258.85 C286.20,254.28 286.63,248.98 287.10,245.13 C287.57,241.28 288.08,237.79 288.50,235.75 C288.92,233.71 289.27,233.47 289.60,232.89 C289.93,232.32 290.18,232.30 290.50,232.30 C290.82,232.30 291.17,232.32 291.50,232.89 C291.83,233.47 292.07,233.71 292.50,235.75 C292.93,237.79 293.67,241.28 294.10,245.13 C294.53,248.98 294.77,254.28 295.10,258.85 C295.43,263.43 295.77,267.65 296.10,272.57 C296.43,277.49 296.77,283.45 297.10,288.37 C297.43,293.28 297.67,297.82 298.10,302.09 C298.53,306.35 299.10,310.66 299.70,313.93 C300.30,317.20 300.82,319.61 301.70,321.73 C302.58,323.85 303.78,325.41 305.00,326.66 C306.22,327.91 307.80,328.54 309.00,329.23 C310.20,329.92 311.67,330.55 312.20,330.81 L312.20,331.5 L266.70,331.5 Z" fill="#dedede" fill-opacity="1.0" stroke="none"/>
<path d="M266.70,331.01 C266.95,330.28 267.45,328.21 268.20,326.66 C268.95,325.12 270.03,323.85 271.20,321.73 C272.37,319.61 273.88,317.20 275.20,313.93 C276.52,310.66 277.95,306.35 279.10,302.09 C280.25,297.82 281.27,293.28 282.10,288.37 C282.93,283.45 283.50,277.49 284.10,272.57 C284.70,267.65 285.20,263.43 285.70,258.85 C286.20,254.28 286.63,248.98 287.10,245.13 C287.57,241.28 288.08,237.79 288.50,235.75 C288.92,233.71 289.27,233.47 289.60,232.89 C289.93,232.32 290.18,232.30 290.50,232.30 C290.82,232.30 291.17,232.32 291.50,232.89 C291.83,233.47 292.07,233.71 292.50,235.75 C292.93,237.79 293.67,241.28 294.10,245.13 C294.53,248.98 294.77,254.28 295.10,258.85 C295.43,263.43 295.77,267.65 296.10,272.57 C296.43,277.49 296.77,283.45 297.10,288.37 C297.43,293.28 297.67,297.82 298.10,302.09 C298.53,306.35 299.10,310.66 299.70,313.93 C300.30,317.20 300.82,319.61 301.70,321.73 C302.58,323.85 303.78,325.41 305.00,326.66 C306.22,327.91 307.80,328.54 309.00,329.23 C310.20,329.92 311.67,330.55 312.20,330.81" fill="none" stroke="#c6c6c6" stroke-width="1.5" stroke-linejoin="round"/>
<path d="M316.00,331.30 C316.50,331.08 317.97,330.62 319.00,330.00 C320.03,329.38 320.83,329.70 322.20,327.60 C323.57,325.50 325.85,320.78 327.20,317.40 C328.55,314.02 329.45,311.02 330.30,307.30 C331.15,303.58 331.62,299.52 332.30,295.10 C332.98,290.68 333.72,286.57 334.40,280.80 C335.08,275.03 335.73,266.58 336.40,260.50 C337.07,254.42 337.80,248.70 338.40,244.30 C339.00,239.90 339.48,236.20 340.00,234.10 C340.52,232.00 341.02,231.70 341.50,231.70 C341.98,231.70 342.40,231.33 342.90,234.10 C343.40,236.87 343.97,244.40 344.50,248.30 C345.03,252.20 345.48,256.13 346.10,257.50 C346.72,258.87 347.52,257.52 348.20,256.50 C348.88,255.48 349.63,251.75 350.20,251.40 C350.77,251.05 351.12,251.87 351.60,254.40 C352.08,256.93 352.58,261.18 353.10,266.60 C353.62,272.02 354.17,280.12 354.70,286.90 C355.23,293.68 355.70,301.53 356.30,307.30 C356.90,313.07 357.62,317.95 358.30,321.50 C358.98,325.05 359.65,327.05 360.40,328.60 C361.15,330.15 361.87,330.33 362.80,330.80 C363.73,331.27 365.47,331.30 366.00,331.40 L366.00,331.5 L316.00,331.5 Z" fill="#9ca6d0" fill-opacity="1.0" stroke="none"/>
<path d="M316.00,331.30 C316.50,331.08 317.97,330.62 319.00,330.00 C320.03,329.38 320.83,329.70 322.20,327.60 C323.57,325.50 325.85,320.78 327.20,317.40 C328.55,314.02 329.45,311.02 330.30,307.30 C331.15,303.58 331.62,299.52 332.30,295.10 C332.98,290.68 333.72,286.57 334.40,280.80 C335.08,275.03 335.73,266.58 336.40,260.50 C337.07,254.42 337.80,248.70 338.40,244.30 C339.00,239.90 339.48,236.20 340.00,234.10 C340.52,232.00 341.02,231.70 341.50,231.70 C341.98,231.70 342.40,231.33 342.90,234.10 C343.40,236.87 343.97,244.40 344.50,248.30 C345.03,252.20 345.48,256.13 346.10,257.50 C346.72,258.87 347.52,257.52 348.20,256.50 C348.88,255.48 349.63,251.75 350.20,251.40 C350.77,251.05 351.12,251.87 351.60,254.40 C352.08,256.93 352.58,261.18 353.10,266.60 C353.62,272.02 354.17,280.12 354.70,286.90 C355.23,293.68 355.70,301.53 356.30,307.30 C356.90,313.07 357.62,317.95 358.30,321.50 C358.98,325.05 359.65,327.05 360.40,328.60 C361.15,330.15 361.87,330.33 362.80,330.80 C363.73,331.27 365.47,331.30 366.00,331.40" fill="none" stroke="#1e305e" stroke-width="1.6" stroke-linejoin="round"/>
<path d="M310.00,331.40 C310.67,331.27 312.65,331.23 314.00,330.60 C315.35,329.97 316.73,329.12 318.10,327.60 C319.47,326.08 321.02,323.20 322.20,321.50 C323.38,319.80 324.47,318.18 325.20,317.40 C325.93,316.62 326.13,316.67 326.60,316.80 C327.07,316.93 327.55,317.58 328.00,318.20 C328.45,318.82 328.58,319.95 329.30,320.50 C330.02,321.05 331.28,322.02 332.30,321.50 C333.32,320.98 334.55,320.12 335.40,317.40 C336.25,314.68 336.83,310.62 337.40,305.20 C337.97,299.78 338.37,292.68 338.80,284.90 C339.23,277.12 339.62,265.95 340.00,258.50 C340.38,251.05 340.83,244.20 341.10,240.20 C341.37,236.20 341.43,235.85 341.60,234.50 C341.77,233.15 341.93,232.10 342.10,232.10 C342.27,232.10 342.43,233.48 342.60,234.50 C342.77,235.52 342.85,234.20 343.10,238.20 C343.35,242.20 343.70,250.72 344.10,258.50 C344.50,266.28 345.02,277.45 345.50,284.90 C345.98,292.35 346.42,298.12 347.00,303.20 C347.58,308.28 348.23,312.02 349.00,315.40 C349.77,318.78 350.65,321.30 351.60,323.50 C352.55,325.70 353.68,327.42 354.70,328.60 C355.72,329.78 356.65,330.13 357.70,330.60 C358.75,331.07 360.45,331.27 361.00,331.40 L361.00,331.5 L310.00,331.5 Z" fill="#a00034" fill-opacity="0.64" stroke="none"/>
<path d="M310.00,331.40 C310.67,331.27 312.65,331.23 314.00,330.60 C315.35,329.97 316.73,329.12 318.10,327.60 C319.47,326.08 321.02,323.20 322.20,321.50 C323.38,319.80 324.47,318.18 325.20,317.40 C325.93,316.62 326.13,316.67 326.60,316.80 C327.07,316.93 327.55,317.58 328.00,318.20 C328.45,318.82 328.58,319.95 329.30,320.50 C330.02,321.05 331.28,322.02 332.30,321.50 C333.32,320.98 334.55,320.12 335.40,317.40 C336.25,314.68 336.83,310.62 337.40,305.20 C337.97,299.78 338.37,292.68 338.80,284.90 C339.23,277.12 339.62,265.95 340.00,258.50 C340.38,251.05 340.83,244.20 341.10,240.20 C341.37,236.20 341.43,235.85 341.60,234.50 C341.77,233.15 341.93,232.10 342.10,232.10 C342.27,232.10 342.43,233.48 342.60,234.50 C342.77,235.52 342.85,234.20 343.10,238.20 C343.35,242.20 343.70,250.72 344.10,258.50 C344.50,266.28 345.02,277.45 345.50,284.90 C345.98,292.35 346.42,298.12 347.00,303.20 C347.58,308.28 348.23,312.02 349.00,315.40 C349.77,318.78 350.65,321.30 351.60,323.50 C352.55,325.70 353.68,327.42 354.70,328.60 C355.72,329.78 356.65,330.13 357.70,330.60 C358.75,331.07 360.45,331.27 361.00,331.40" fill="none" stroke="#a8123f" stroke-width="1.7" stroke-linejoin="round"/>
<line x1="265.59999999999997" y1="326.525" x2="267.2" y2="326.525" stroke="#000" stroke-width="1.3"/>
<line x1="265.59999999999997" y1="321.55" x2="267.2" y2="321.55" stroke="#000" stroke-width="1.3"/>
<line x1="265.59999999999997" y1="316.575" x2="267.2" y2="316.575" stroke="#000" stroke-width="1.3"/>
<line x1="263.8" y1="311.6" x2="267.2" y2="311.6" stroke="#000" stroke-width="1.3"/>
<line x1="265.59999999999997" y1="306.625" x2="267.2" y2="306.625" stroke="#000" stroke-width="1.3"/>
<line x1="265.59999999999997" y1="301.65" x2="267.2" y2="301.65" stroke="#000" stroke-width="1.3"/>
<line x1="265.59999999999997" y1="296.675" x2="267.2" y2="296.675" stroke="#000" stroke-width="1.3"/>
<line x1="263.8" y1="291.7" x2="267.2" y2="291.7" stroke="#000" stroke-width="1.3"/>
<line x1="265.59999999999997" y1="286.725" x2="267.2" y2="286.725" stroke="#000" stroke-width="1.3"/>
<line x1="265.59999999999997" y1="281.75" x2="267.2" y2="281.75" stroke="#000" stroke-width="1.3"/>
<line x1="265.59999999999997" y1="276.775" x2="267.2" y2="276.775" stroke="#000" stroke-width="1.3"/>
<line x1="263.8" y1="271.8" x2="267.2" y2="271.8" stroke="#000" stroke-width="1.3"/>
<line x1="265.59999999999997" y1="266.825" x2="267.2" y2="266.825" stroke="#000" stroke-width="1.3"/>
<line x1="265.59999999999997" y1="261.85" x2="267.2" y2="261.85" stroke="#000" stroke-width="1.3"/>
<line x1="265.59999999999997" y1="256.875" x2="267.2" y2="256.875" stroke="#000" stroke-width="1.3"/>
<line x1="263.8" y1="251.9" x2="267.2" y2="251.9" stroke="#000" stroke-width="1.3"/>
<line x1="265.59999999999997" y1="246.925" x2="267.2" y2="246.925" stroke="#000" stroke-width="1.3"/>
<line x1="265.59999999999997" y1="241.95" x2="267.2" y2="241.95" stroke="#000" stroke-width="1.3"/>
<line x1="265.59999999999997" y1="236.97500000000002" x2="267.2" y2="236.97500000000002" stroke="#000" stroke-width="1.3"/>
<line x1="263.8" y1="232.0" x2="267.2" y2="232.0" stroke="#000" stroke-width="1.3"/>
<line x1="274.4096683961523" y1="331.5" x2="274.4096683961523" y2="333.2" stroke="#000" stroke-width="0.9"/>
<line x1="278.6270540505359" y1="331.5" x2="278.6270540505359" y2="333.2" stroke="#000" stroke-width="0.9"/>
<line x1="281.6193367923047" y1="331.5" x2="281.6193367923047" y2="333.2" stroke="#000" stroke-width="0.9"/>
<line x1="283.94033160384765" y1="331.5" x2="283.94033160384765" y2="333.2" stroke="#000" stroke-width="0.9"/>
<line x1="285.83672244668827" y1="331.5" x2="285.83672244668827" y2="333.2" stroke="#000" stroke-width="0.9"/>
<line x1="287.44009805834145" y1="331.5" x2="287.44009805834145" y2="333.2" stroke="#000" stroke-width="0.9"/>
<line x1="288.829005188457" y1="331.5" x2="288.829005188457" y2="333.2" stroke="#000" stroke-width="0.9"/>
<line x1="290.05410810107185" y1="331.5" x2="290.05410810107185" y2="333.2" stroke="#000" stroke-width="0.9"/>
<line x1="291.15" y1="331.5" x2="291.15" y2="334.7" stroke="#000" stroke-width="1.0"/>
<line x1="298.3596683961523" y1="331.5" x2="298.3596683961523" y2="333.2" stroke="#000" stroke-width="0.9"/>
<line x1="302.5770540505359" y1="331.5" x2="302.5770540505359" y2="333.2" stroke="#000" stroke-width="0.9"/>
<line x1="305.5693367923047" y1="331.5" x2="305.5693367923047" y2="333.2" stroke="#000" stroke-width="0.9"/>
<line x1="307.89033160384764" y1="331.5" x2="307.89033160384764" y2="333.2" stroke="#000" stroke-width="0.9"/>
<line x1="309.78672244668826" y1="331.5" x2="309.78672244668826" y2="333.2" stroke="#000" stroke-width="0.9"/>
<line x1="311.39009805834144" y1="331.5" x2="311.39009805834144" y2="333.2" stroke="#000" stroke-width="0.9"/>
<line x1="312.779005188457" y1="331.5" x2="312.779005188457" y2="333.2" stroke="#000" stroke-width="0.9"/>
<line x1="314.0041081010718" y1="331.5" x2="314.0041081010718" y2="333.2" stroke="#000" stroke-width="0.9"/>
<line x1="315.09999999999997" y1="331.5" x2="315.09999999999997" y2="334.7" stroke="#000" stroke-width="1.0"/>
<line x1="322.3096683961523" y1="331.5" x2="322.3096683961523" y2="333.2" stroke="#000" stroke-width="0.9"/>
<line x1="326.52705405053587" y1="331.5" x2="326.52705405053587" y2="333.2" stroke="#000" stroke-width="0.9"/>
<line x1="329.51933679230467" y1="331.5" x2="329.51933679230467" y2="333.2" stroke="#000" stroke-width="0.9"/>
<line x1="331.84033160384763" y1="331.5" x2="331.84033160384763" y2="333.2" stroke="#000" stroke-width="0.9"/>
<line x1="333.73672244668825" y1="331.5" x2="333.73672244668825" y2="333.2" stroke="#000" stroke-width="0.9"/>
<line x1="335.3400980583414" y1="331.5" x2="335.3400980583414" y2="333.2" stroke="#000" stroke-width="0.9"/>
<line x1="336.729005188457" y1="331.5" x2="336.729005188457" y2="333.2" stroke="#000" stroke-width="0.9"/>
<line x1="337.9541081010718" y1="331.5" x2="337.9541081010718" y2="333.2" stroke="#000" stroke-width="0.9"/>
<line x1="339.04999999999995" y1="331.5" x2="339.04999999999995" y2="334.7" stroke="#000" stroke-width="1.0"/>
<line x1="346.2596683961523" y1="331.5" x2="346.2596683961523" y2="333.2" stroke="#000" stroke-width="0.9"/>
<line x1="350.47705405053586" y1="331.5" x2="350.47705405053586" y2="333.2" stroke="#000" stroke-width="0.9"/>
<line x1="353.46933679230466" y1="331.5" x2="353.46933679230466" y2="333.2" stroke="#000" stroke-width="0.9"/>
<line x1="355.7903316038476" y1="331.5" x2="355.7903316038476" y2="333.2" stroke="#000" stroke-width="0.9"/>
<line x1="357.68672244668824" y1="331.5" x2="357.68672244668824" y2="333.2" stroke="#000" stroke-width="0.9"/>
<line x1="359.2900980583414" y1="331.5" x2="359.2900980583414" y2="333.2" stroke="#000" stroke-width="0.9"/>
<line x1="360.679005188457" y1="331.5" x2="360.679005188457" y2="333.2" stroke="#000" stroke-width="0.9"/>
<line x1="361.90410810107176" y1="331.5" x2="361.90410810107176" y2="333.2" stroke="#000" stroke-width="0.9"/>
<line x1="363.0" y1="331.5" x2="363.0" y2="334.7" stroke="#000" stroke-width="1.0"/>
<line x1="370.2096683961523" y1="331.5" x2="370.2096683961523" y2="333.2" stroke="#000" stroke-width="0.9"/>
<line x1="267.2" y1="227.5" x2="267.2" y2="334.8" stroke="#000" stroke-width="1.3"/>
<line x1="263.8" y1="331.5" x2="372.40000000000003" y2="331.5" stroke="#000" stroke-width="1.3"/>
<line x1="266.59999999999997" y1="227.5" x2="372.40000000000003" y2="227.5" stroke="#000" stroke-width="1.2"/>
<line x1="371.8" y1="227.5" x2="371.8" y2="331.5" stroke="#000" stroke-width="1.2"/>
<text x="267.2" y="344.7" font-size="8.3" text-anchor="start" fill="#444" font-weight="normal" textLength="15" lengthAdjust="spacingAndGlyphs">pAkt</text>
<line x1="385" y1="260.0" x2="397.2" y2="260.0" stroke="#b4c4c6" stroke-width="2.0"/>
<text x="401" y="263.3" font-size="9.5" text-anchor="start" fill="#333" font-weight="normal" textLength="36.6" lengthAdjust="spacingAndGlyphs">Unstained</text>
<line x1="385" y1="271.75" x2="397.2" y2="271.75" stroke="#741636" stroke-width="2.0"/>
<text x="401" y="275.05" font-size="9.5" text-anchor="start" fill="#333" font-weight="normal" textLength="39.7" lengthAdjust="spacingAndGlyphs">Everolimus</text>
<line x1="385" y1="283.5" x2="397.2" y2="283.5" stroke="#1c2a46" stroke-width="2.0"/>
<text x="401" y="286.8" font-size="9.5" text-anchor="start" fill="#333" font-weight="normal" textLength="25.7" lengthAdjust="spacingAndGlyphs">Vehicle</text>
<text x="10.8" y="375.7" font-size="12.5" text-anchor="start" fill="#000" font-weight="bold" stroke="#000" stroke-width="0.35">E</text>
<line x1="61.5" y1="380.3" x2="61.5" y2="482.4" stroke="#000" stroke-width="1.4"/>
<line x1="57.7" y1="384.0" x2="61.5" y2="384.0" stroke="#000" stroke-width="1.3"/>
<text x="53.3" y="387.024" font-size="8.4" text-anchor="end" fill="#2a2a2a" font-weight="normal">10000</text>
<line x1="57.7" y1="403.53999999999996" x2="61.5" y2="403.53999999999996" stroke="#000" stroke-width="1.3"/>
<text x="53.3" y="406.56399999999996" font-size="8.4" text-anchor="end" fill="#2a2a2a" font-weight="normal">8000</text>
<line x1="57.7" y1="423.08" x2="61.5" y2="423.08" stroke="#000" stroke-width="1.3"/>
<text x="53.3" y="426.104" font-size="8.4" text-anchor="end" fill="#2a2a2a" font-weight="normal">6000</text>
<line x1="57.7" y1="442.62" x2="61.5" y2="442.62" stroke="#000" stroke-width="1.3"/>
<text x="53.3" y="445.644" font-size="8.4" text-anchor="end" fill="#2a2a2a" font-weight="normal">4000</text>
<line x1="57.7" y1="462.15999999999997" x2="61.5" y2="462.15999999999997" stroke="#000" stroke-width="1.3"/>
<text x="53.3" y="465.18399999999997" font-size="8.4" text-anchor="end" fill="#2a2a2a" font-weight="normal">2000</text>
<line x1="57.7" y1="481.7" x2="61.5" y2="481.7" stroke="#000" stroke-width="1.3"/>
<text x="53.3" y="484.724" font-size="8.4" text-anchor="end" fill="#2a2a2a" font-weight="normal">0</text>
<line x1="58" y1="481.7" x2="105" y2="481.7" stroke="#000" stroke-width="1.4"/>
<line x1="73.8" y1="481.7" x2="73.8" y2="485.2" stroke="#000" stroke-width="1.2"/>
<line x1="93.3" y1="481.7" x2="93.3" y2="485.2" stroke="#000" stroke-width="1.2"/>
<text x="84.2" y="496.2" font-size="9" text-anchor="middle" fill="#2a2a2a" font-weight="normal" textLength="34.2" lengthAdjust="spacingAndGlyphs">Veh Ever</text>
<text transform="translate(23.6,431.2) rotate(-90)" x="0" y="0" font-size="10" text-anchor="middle" fill="#2a2a2a" textLength="31.2" lengthAdjust="spacingAndGlyphs">MFI-pS6</text>
<line x1="73.5" y1="386.3" x2="97.3" y2="386.3" stroke="#1a1a1a" stroke-width="1.5"/>
<circle cx="80.25" cy="381.90" r="1.1" fill="#222"/>
<circle cx="83.75" cy="381.90" r="1.1" fill="#222"/>
<circle cx="87.25" cy="381.90" r="1.1" fill="#222"/>
<circle cx="90.75" cy="381.90" r="1.1" fill="#222"/>
<circle cx="68.8" cy="403.5" r="1.65" fill="#2c3a50" stroke="#222c3c" stroke-width="0.6"/>
<circle cx="75" cy="408.4" r="1.65" fill="#2c3a50" stroke="#222c3c" stroke-width="0.6"/>
<circle cx="80.9" cy="406.5" r="1.65" fill="#2c3a50" stroke="#222c3c" stroke-width="0.6"/>
<line x1="69.3" y1="406.7" x2="79.89999999999999" y2="406.7" stroke="#000" stroke-width="1.2"/>
<line x1="74.6" y1="403.5" x2="74.6" y2="409.3" stroke="#000" stroke-width="1.2"/>
<line x1="70.44999999999999" y1="403.5" x2="78.75" y2="403.5" stroke="#000" stroke-width="1.2"/>
<line x1="70.44999999999999" y1="409.3" x2="78.75" y2="409.3" stroke="#000" stroke-width="1.2"/>
<circle cx="94.7" cy="431.9" r="1.75" fill="#a0123a" stroke="#860a2c" stroke-width="0.6"/>
<circle cx="88.7" cy="436.5" r="1.75" fill="#a0123a" stroke="#860a2c" stroke-width="0.6"/>
<circle cx="94.7" cy="439.1" r="1.75" fill="#a0123a" stroke="#860a2c" stroke-width="0.6"/>
<circle cx="101.1" cy="438.3" r="1.75" fill="#a0123a" stroke="#860a2c" stroke-width="0.6"/>
<line x1="89.55000000000001" y1="436.8" x2="100.25" y2="436.8" stroke="#000" stroke-width="1.2"/>
<line x1="94.9" y1="433.4" x2="94.9" y2="439.1" stroke="#000" stroke-width="1.2"/>
<line x1="91.0" y1="433.4" x2="98.80000000000001" y2="433.4" stroke="#000" stroke-width="1.2"/>
<line x1="91.0" y1="439.1" x2="98.80000000000001" y2="439.1" stroke="#000" stroke-width="1.2"/>
<text x="123.2" y="375.7" font-size="12.5" text-anchor="start" fill="#000" font-weight="bold" stroke="#000" stroke-width="0.35">F</text>
<line x1="164.2" y1="379.6" x2="164.2" y2="482.5" stroke="#000" stroke-width="1.4"/>
<line x1="160.39999999999998" y1="382.20000000000005" x2="164.2" y2="382.20000000000005" stroke="#000" stroke-width="1.3"/>
<text x="156.79999999999998" y="385.29600000000005" font-size="8.6" text-anchor="end" fill="#2a2a2a" font-weight="normal">4000</text>
<line x1="160.39999999999998" y1="407.1" x2="164.2" y2="407.1" stroke="#000" stroke-width="1.3"/>
<text x="156.79999999999998" y="410.196" font-size="8.6" text-anchor="end" fill="#2a2a2a" font-weight="normal">3000</text>
<line x1="160.39999999999998" y1="432.0" x2="164.2" y2="432.0" stroke="#000" stroke-width="1.3"/>
<text x="156.79999999999998" y="435.096" font-size="8.6" text-anchor="end" fill="#2a2a2a" font-weight="normal">2000</text>
<line x1="160.39999999999998" y1="456.90000000000003" x2="164.2" y2="456.90000000000003" stroke="#000" stroke-width="1.3"/>
<text x="156.79999999999998" y="459.99600000000004" font-size="8.6" text-anchor="end" fill="#2a2a2a" font-weight="normal">1000</text>
<line x1="160.39999999999998" y1="481.8" x2="164.2" y2="481.8" stroke="#000" stroke-width="1.3"/>
<text x="156.79999999999998" y="484.896" font-size="8.6" text-anchor="end" fill="#2a2a2a" font-weight="normal">0</text>
<line x1="161.5" y1="481.8" x2="205.4" y2="481.8" stroke="#000" stroke-width="1.4"/>
<line x1="173.8" y1="481.8" x2="173.8" y2="485.3" stroke="#000" stroke-width="1.2"/>
<line x1="192.8" y1="481.8" x2="192.8" y2="485.3" stroke="#000" stroke-width="1.2"/>
<text x="184" y="495.8" font-size="9" text-anchor="middle" fill="#2a2a2a" font-weight="normal" textLength="35" lengthAdjust="spacingAndGlyphs">Veh Ever</text>
<text transform="translate(131.8,430.2) rotate(-90)" x="0" y="0" font-size="9.8" text-anchor="middle" fill="#2a2a2a" textLength="40.8" lengthAdjust="spacingAndGlyphs">MFI-p4EB1</text>
<line x1="173.1" y1="386.2" x2="196.8" y2="386.2" stroke="#1a1a1a" stroke-width="1.5"/>
<circle cx="183.05" cy="381.80" r="1.1" fill="#222"/>
<circle cx="186.55" cy="381.80" r="1.1" fill="#222"/>
<circle cx="175.1" cy="396.3" r="1.45" fill="#2c3a50" stroke="#222c3c" stroke-width="0.6"/>
<rect x="170.30" y="404.60" width="4.00" height="4.00" fill="#2c3a50"/>
<rect x="176.20" y="404.00" width="4.00" height="4.00" fill="#6b7890"/>
<line x1="170.1" y1="402.4" x2="180.9" y2="402.4" stroke="#000" stroke-width="1.2"/>
<line x1="175.5" y1="397.4" x2="175.5" y2="408.1" stroke="#000" stroke-width="1.2"/>
<line x1="171.25" y1="397.4" x2="179.75" y2="397.4" stroke="#000" stroke-width="1.2"/>
<line x1="171.25" y1="408.1" x2="179.75" y2="408.1" stroke="#000" stroke-width="1.2"/>
<circle cx="187.7" cy="439.9" r="1.75" fill="#a0123a" stroke="#860a2c" stroke-width="0.6"/>
<circle cx="194.1" cy="436.1" r="1.75" fill="#a0123a" stroke="#860a2c" stroke-width="0.6"/>
<circle cx="194.1" cy="442.7" r="1.75" fill="#a0123a" stroke="#860a2c" stroke-width="0.6"/>
<circle cx="199.9" cy="440.2" r="1.75" fill="#a0123a" stroke="#860a2c" stroke-width="0.6"/>
<line x1="188.5" y1="439.9" x2="199.5" y2="439.9" stroke="#000" stroke-width="1.2"/>
<line x1="194" y1="436.3" x2="194" y2="442.7" stroke="#000" stroke-width="1.2"/>
<line x1="190.0" y1="436.3" x2="198.0" y2="436.3" stroke="#000" stroke-width="1.2"/>
<line x1="190.0" y1="442.7" x2="198.0" y2="442.7" stroke="#000" stroke-width="1.2"/>
<text x="223" y="375.7" font-size="12.5" text-anchor="start" fill="#000" font-weight="bold" stroke="#000" stroke-width="0.35">G</text>
<line x1="270.5" y1="382.7" x2="270.5" y2="482.3" stroke="#000" stroke-width="1.4"/>
<line x1="266.7" y1="405.8" x2="270.5" y2="405.8" stroke="#000" stroke-width="1.3"/>
<text x="262.6" y="408.896" font-size="8.6" text-anchor="end" fill="#2a2a2a" font-weight="normal">20000</text>
<line x1="266.7" y1="443.70000000000005" x2="270.5" y2="443.70000000000005" stroke="#000" stroke-width="1.3"/>
<text x="262.6" y="446.79600000000005" font-size="8.6" text-anchor="end" fill="#2a2a2a" font-weight="normal">10000</text>
<line x1="266.7" y1="481.6" x2="270.5" y2="481.6" stroke="#000" stroke-width="1.3"/>
<text x="262.6" y="484.696" font-size="8.6" text-anchor="end" fill="#2a2a2a" font-weight="normal">0</text>
<line x1="267.2" y1="481.6" x2="313.4" y2="481.6" stroke="#000" stroke-width="1.4"/>
<line x1="281.4" y1="481.6" x2="281.4" y2="485.1" stroke="#000" stroke-width="1.2"/>
<line x1="300.4" y1="481.6" x2="300.4" y2="485.1" stroke="#000" stroke-width="1.2"/>
<text x="291.4" y="496.4" font-size="9" text-anchor="middle" fill="#2a2a2a" font-weight="normal" textLength="34.6" lengthAdjust="spacingAndGlyphs">Veh Ever</text>
<text transform="translate(230.2,432.0) rotate(-90)" x="0" y="0" font-size="9.3" text-anchor="middle" fill="#2a2a2a" textLength="32.5" lengthAdjust="spacingAndGlyphs">MFI-pAkt</text>
<line x1="280.2" y1="387.2" x2="306.8" y2="387.2" stroke="#1a1a1a" stroke-width="1.5"/>
<circle cx="290.10" cy="382.80" r="1.1" fill="#222"/>
<circle cx="293.60" cy="382.80" r="1.1" fill="#222"/>
<circle cx="297.10" cy="382.80" r="1.1" fill="#222"/>
<line x1="277.85" y1="395.0" x2="287.35" y2="395.0" stroke="#000" stroke-width="1.0"/>
<line x1="282.6" y1="393.4" x2="282.6" y2="397.8" stroke="#000" stroke-width="1.0"/>
<line x1="278.5" y1="393.4" x2="286.70000000000005" y2="393.4" stroke="#000" stroke-width="1.0"/>
<line x1="278.5" y1="397.8" x2="286.70000000000005" y2="397.8" stroke="#000" stroke-width="1.0"/>
<circle cx="277.4" cy="393.5" r="1.60" fill="#2c3a50" stroke="#222c3c" stroke-width="0.6"/>
<circle cx="289.9" cy="396" r="1.60" fill="#2c3a50" stroke="#222c3c" stroke-width="0.6"/>
<rect x="280.3" y="396.3" width="5.8" height="2.5" rx="1" fill="#2c3a50" fill-opacity="0.85"/>
<line x1="296.0" y1="422.1" x2="305.0" y2="422.1" stroke="#000" stroke-width="1.2"/>
<circle cx="292.9" cy="422.1" r="1.85" fill="#a0123a" stroke="#860a2c" stroke-width="0.6"/>
<circle cx="298.8" cy="422.3" r="1.85" fill="#a0123a" stroke="#860a2c" stroke-width="0.6"/>
<circle cx="304.5" cy="422.3" r="1.85" fill="#a0123a" stroke="#860a2c" stroke-width="0.6"/>
<circle cx="311" cy="419.7" r="1.85" fill="#a0123a" stroke="#860a2c" stroke-width="0.6"/>
<text x="331" y="375.7" font-size="12.5" text-anchor="start" fill="#000" font-weight="bold" stroke="#000" stroke-width="0.35">H</text>
<line x1="373.3" y1="392" x2="373.3" y2="482.5" stroke="#000" stroke-width="1.4"/>
<line x1="369.5" y1="400.6" x2="373.3" y2="400.6" stroke="#000" stroke-width="1.3"/>
<text x="366.5" y="403.76800000000003" font-size="8.8" text-anchor="end" fill="#2a2a2a" font-weight="normal">100</text>
<line x1="369.5" y1="441.2" x2="373.3" y2="441.2" stroke="#000" stroke-width="1.3"/>
<text x="366.5" y="444.368" font-size="8.8" text-anchor="end" fill="#2a2a2a" font-weight="normal">50</text>
<line x1="369.5" y1="481.8" x2="373.3" y2="481.8" stroke="#000" stroke-width="1.3"/>
<text x="366.5" y="484.968" font-size="8.8" text-anchor="end" fill="#2a2a2a" font-weight="normal">0</text>
<line x1="373.3" y1="481.8" x2="511" y2="481.8" stroke="#000" stroke-width="1.4"/>
<line x1="373.3" y1="481.8" x2="373.3" y2="485.3" stroke="#000" stroke-width="1.2"/>
<line x1="400.3" y1="481.8" x2="400.3" y2="485.3" stroke="#000" stroke-width="1.2"/>
<line x1="427.3" y1="481.8" x2="427.3" y2="485.3" stroke="#000" stroke-width="1.2"/>
<line x1="454.3" y1="481.8" x2="454.3" y2="485.3" stroke="#000" stroke-width="1.2"/>
<line x1="481.3" y1="481.8" x2="481.3" y2="485.3" stroke="#000" stroke-width="1.2"/>
<line x1="508.3" y1="481.8" x2="508.3" y2="485.3" stroke="#000" stroke-width="1.2"/>
<text x="373.3" y="496.2" font-size="9" text-anchor="middle" fill="#2a2a2a" font-weight="normal">0</text>
<text x="400.3" y="496.2" font-size="9" text-anchor="middle" fill="#2a2a2a" font-weight="normal">10</text>
<text x="427.3" y="496.2" font-size="9" text-anchor="middle" fill="#2a2a2a" font-weight="normal">20</text>
<text x="454.3" y="496.2" font-size="9" text-anchor="middle" fill="#2a2a2a" font-weight="normal">30</text>
<text x="481.3" y="496.2" font-size="9" text-anchor="middle" fill="#2a2a2a" font-weight="normal">40</text>
<text x="508.3" y="496.2" font-size="9" text-anchor="middle" fill="#2a2a2a" font-weight="normal">50</text>
<text x="442.8" y="510.6" font-size="10.6" text-anchor="middle" fill="#2a2a2a" font-weight="normal" textLength="71" lengthAdjust="spacingAndGlyphs">Days after injection</text>
<text transform="translate(346.6,436.1) rotate(-90)" x="0" y="0" font-size="10.4" text-anchor="middle" fill="#2a2a2a" textLength="70.5" lengthAdjust="spacingAndGlyphs">Overall survival (%)</text>
<line x1="407.8" y1="395.4" x2="467" y2="395.4" stroke="#222" stroke-width="1.4"/>
<polyline points="430.3,400.6 500.1,400.6 500.1,481.8" fill="none" stroke="#9a1038" stroke-width="1.5"/>
<polyline points="374.0,400.6 430.4,400.6 430.4,481.8" fill="none" stroke="#1f2e5c" stroke-width="1.5"/>
<line x1="435.7" y1="448.5" x2="445" y2="448.5" stroke="#1f2e5c" stroke-width="1.6"/>
<line x1="440.3" y1="446.8" x2="440.3" y2="450.2" stroke="#1f2e5c" stroke-width="1.2"/>
<text x="448.9" y="452.3" font-size="9.5" text-anchor="start" fill="#333" font-weight="normal" textLength="25.9" lengthAdjust="spacingAndGlyphs">Vehicle</text>
<line x1="435.7" y1="460" x2="445" y2="460" stroke="#9a1038" stroke-width="1.6"/>
<line x1="440.3" y1="458.3" x2="440.3" y2="461.7" stroke="#9a1038" stroke-width="1.2"/>
<text x="448.9" y="463.8" font-size="9.5" text-anchor="start" fill="#333" font-weight="normal" textLength="40.4" lengthAdjust="spacingAndGlyphs">Everolimus</text>
<text x="436.9" y="473" font-size="9.5" text-anchor="start" fill="#333" font-weight="normal" textLength="35.6" lengthAdjust="spacingAndGlyphs">p=0.0082</text>
<rect x="0" y="0" width="520" height="1.4" fill="#000"/><rect x="0" y="0" width="1.4" height="522" fill="#000"/><rect x="518.3" y="0" width="1.7" height="522" fill="#000"/><rect x="0" y="520.3" width="520" height="1.7" fill="#000"/>
</svg>
</body></html>
